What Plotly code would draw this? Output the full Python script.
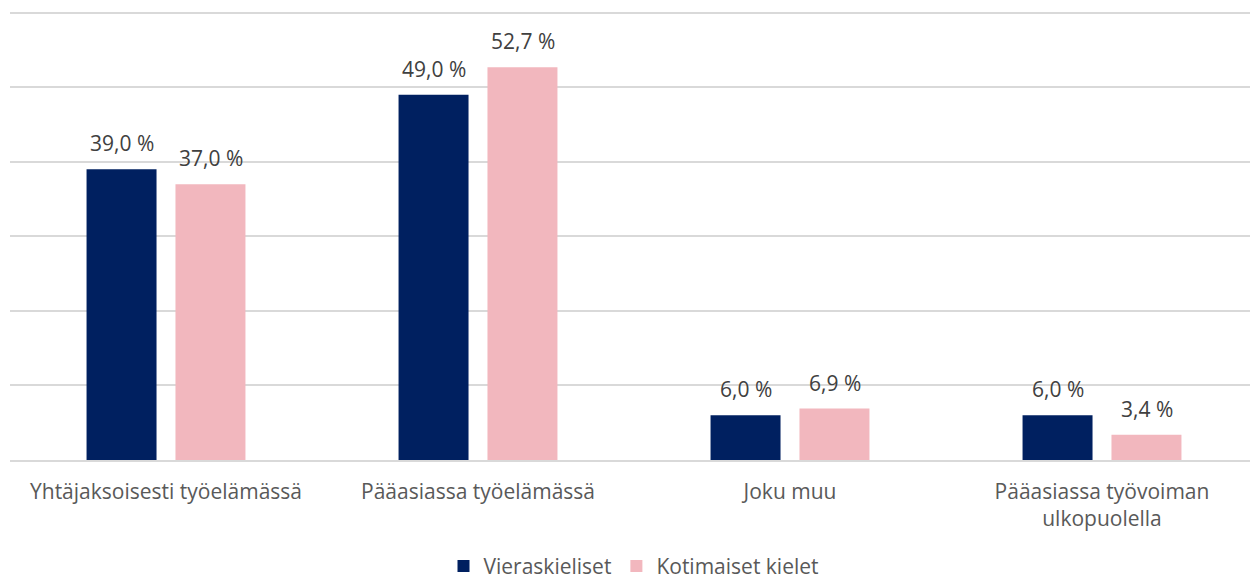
import plotly.graph_objects as go

categories = ["Yhtäjaksoisesti työelämässä", "Pääasiassa työelämässä", "Joku muu",
              "Pääasiassa työvoiman<br>ulkopuolella"]
series_names = ["Vieraskieliset", "Kotimaiset kielet"]
vieraskieliset = [39.0, 49.0, 6.0, 6.0]
kotimaiset = [37.0, 52.7, 6.9, 3.4]
colors = ["#002060", "#F2B7BE"]

FONT = "'Open Sans', sans-serif"

def fmt(v):
    return f"{v:.1f}".replace(".", ",") + " %"

fig = go.Figure()
for name, vals, col in zip(series_names, [vieraskieliset, kotimaiset], colors):
    fig.add_trace(go.Bar(name=name, x=categories, y=vals, marker_color=col,
                         marker_line_width=0, hoverinfo="skip"))

annotations = []
for vals, shift in [(vieraskieliset, -44.5), (kotimaiset, 44.5)]:
    for c, v in zip(categories, vals):
        annotations.append(dict(x=c, y=v, text=fmt(v), showarrow=False, xref="x", yref="y",
                                xshift=shift, yshift=10, yanchor="bottom",
                                font=dict(family=FONT, size=21, color="#404040")))

fig.update_layout(
    width=1250, height=576,
    margin=dict(l=2, r=0, t=3, b=124, autoexpand=False),
    plot_bgcolor="white", paper_bgcolor="white",
    barmode="group", bargap=0.43, bargroupgap=0.213,
    font=dict(family=FONT, size=21, color="#595959"),
    annotations=annotations,
    showlegend=True,
    legend=dict(orientation="h", x=0.5, xanchor="center", yref="paper", y=-0.237, yanchor="middle",
                font=dict(family=FONT, size=21, color="#595959"),
                itemwidth=30, traceorder="normal"),
    xaxis=dict(showgrid=False, showline=True, linecolor="#d9d9d9", linewidth=1.5,
               ticks="", tickfont=dict(family=FONT, size=21, color="#595959"),
               ticklabelstandoff=12),
    yaxis=dict(range=[0, 60.25], tick0=0, dtick=10, showgrid=True, gridcolor="#d9d9d9", gridwidth=1.5,
               showticklabels=False, zeroline=False, showline=False),
)

fig.write_html("out.html")
